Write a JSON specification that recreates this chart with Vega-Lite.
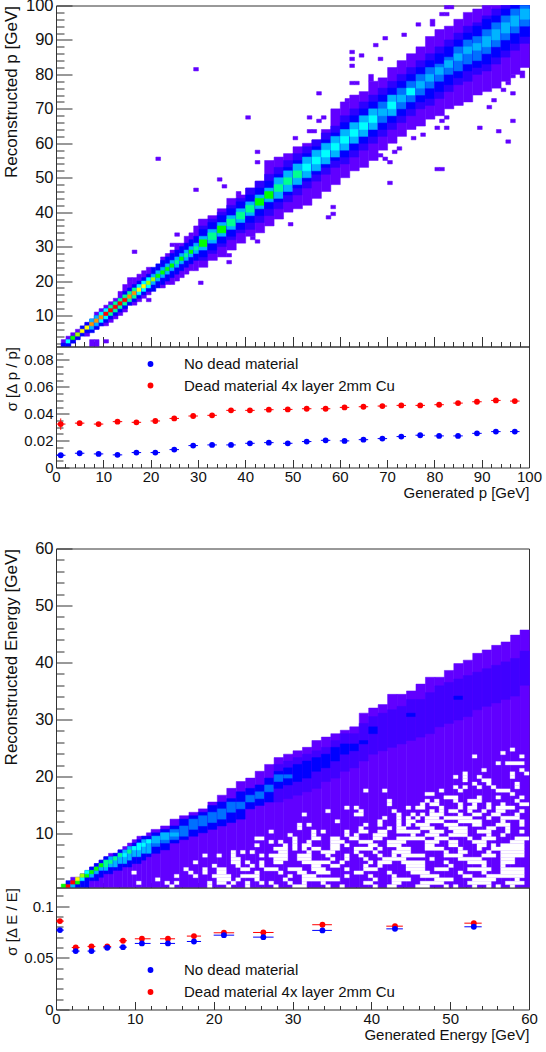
{"$schema":"https://vega.github.io/schema/vega-lite/v6.json","bounds":"flush","spacing":0,"padding":{"left":1,"top":-3.5,"right":0,"bottom":0},"resolve":{"scale":{"color":"independent","stroke":"independent"}},"config":{"font":"Liberation Sans","view":{"stroke":"#333","strokeWidth":1},"range":{"category":["#ff0000","#0000ff"]},"axis":{"grid":false,"domain":false,"zindex":1,"tickColor":"#333","labelColor":"#111","titleColor":"#111","titleFontWeight":"normal","labelOverlap":false,"labelBound":false,"labelFlush":false}},
"datasets":{
"h1a":[{"x":1.5,"y":1,"t":3,"c":1},{"x":1.5,"y":1,"t":2,"c":3},{"x":2.5,"y":1,"t":4,"c":1},{"x":2.5,"y":1,"t":2,"c":3},{"x":2.5,"y":2,"t":3,"c":6},{"x":3.5,"y":2,"t":5,"c":1},{"x":3.5,"y":2,"t":4,"c":3},{"x":3.5,"y":3,"t":4,"c":8},{"x":4.5,"y":3,"t":6,"c":1},{"x":4.5,"y":3,"t":5,"c":3},{"x":4.5,"y":4,"t":5,"c":9},{"x":5.5,"y":4,"t":7,"c":3},{"x":5.5,"y":5,"t":6,"c":10},{"x":6.5,"y":4,"t":8,"c":1},{"x":6.5,"y":5,"t":8,"c":3},{"x":6.5,"y":6,"t":7,"c":10},{"x":7.5,"y":5,"t":9,"c":3},{"x":7.5,"y":6,"t":9,"c":5},{"x":7.5,"y":7,"t":8,"c":11},{"x":8.5,"y":6,"t":11,"c":1},{"x":8.5,"y":6,"t":10,"c":3},{"x":8.5,"y":7,"t":10,"c":5},{"x":8.5,"y":8,"t":9,"c":11},{"x":9.5,"y":7,"t":12,"c":1},{"x":9.5,"y":7,"t":11,"c":3},{"x":9.5,"y":8,"t":11,"c":6},{"x":9.5,"y":9,"t":10,"c":11},{"x":10.5,"y":7,"t":13,"c":1},{"x":10.5,"y":8,"t":12,"c":3},{"x":10.5,"y":9,"t":12,"c":6},{"x":10.5,"y":10,"t":11,"c":12},{"x":11.5,"y":8,"t":14,"c":1},{"x":11.5,"y":9,"t":13,"c":3},{"x":11.5,"y":10,"t":13,"c":7},{"x":11.5,"y":11,"t":12,"c":12},{"x":12.5,"y":9,"t":15,"c":1},{"x":12.5,"y":10,"t":14,"c":3},{"x":12.5,"y":11,"t":14,"c":7},{"x":12.5,"y":12,"t":13,"c":12},{"x":13.5,"y":10,"t":17,"c":1},{"x":13.5,"y":11,"t":15,"c":3},{"x":13.5,"y":12,"t":15,"c":7},{"x":13.5,"y":13,"t":14,"c":12},{"x":14.5,"y":11,"t":19,"c":1},{"x":14.5,"y":12,"t":17,"c":3},{"x":14.5,"y":13,"t":16,"c":7},{"x":14.5,"y":14,"t":15,"c":12},{"x":15.5,"y":13,"t":20,"c":1},{"x":15.5,"y":13,"t":18,"c":3},{"x":15.5,"y":14,"t":17,"c":7},{"x":15.5,"y":15,"t":16,"c":11},{"x":16.5,"y":13,"t":21,"c":1},{"x":16.5,"y":14,"t":19,"c":3},{"x":16.5,"y":15,"t":18,"c":7},{"x":16.5,"y":16,"t":17,"c":11},{"x":17.5,"y":14,"t":22,"c":1},{"x":17.5,"y":15,"t":20,"c":3},{"x":17.5,"y":16,"t":19,"c":6},{"x":17.5,"y":17,"t":18,"c":10},{"x":18.5,"y":15,"t":23,"c":1},{"x":18.5,"y":16,"t":21,"c":3},{"x":18.5,"y":17,"t":20,"c":6},{"x":18.5,"y":18,"t":19,"c":10},{"x":19.5,"y":16,"t":24,"c":1},{"x":19.5,"y":17,"t":22,"c":3},{"x":19.5,"y":18,"t":21,"c":6},{"x":19.5,"y":19,"t":20,"c":9},{"x":20.5,"y":17,"t":24,"c":3},{"x":20.5,"y":19,"t":22,"c":5},{"x":20.5,"y":20,"t":21,"c":9},{"x":21.5,"y":18,"t":25,"c":3},{"x":21.5,"y":20,"t":23,"c":5},{"x":21.5,"y":21,"t":22,"c":8},{"x":22.5,"y":18,"t":27,"c":1},{"x":22.5,"y":19,"t":26,"c":3},{"x":22.5,"y":21,"t":24,"c":5},{"x":22.5,"y":22,"t":23,"c":8},{"x":23.5,"y":19,"t":28,"c":1},{"x":23.5,"y":20,"t":27,"c":3},{"x":23.5,"y":22,"t":25,"c":5},{"x":23.5,"y":23,"t":24,"c":8},{"x":24.5,"y":19,"t":29,"c":1},{"x":24.5,"y":21,"t":28,"c":3},{"x":24.5,"y":23,"t":26,"c":5},{"x":24.5,"y":24,"t":25,"c":8},{"x":25.5,"y":20,"t":31,"c":1},{"x":25.5,"y":22,"t":29,"c":3},{"x":25.5,"y":24,"t":27,"c":5},{"x":25.5,"y":25,"t":26,"c":7},{"x":26.5,"y":21,"t":31,"c":1},{"x":26.5,"y":23,"t":30,"c":3},{"x":26.5,"y":25,"t":28,"c":5},{"x":26.5,"y":26,"t":27,"c":8},{"x":27.5,"y":22,"t":33,"c":1},{"x":27.5,"y":24,"t":31,"c":3},{"x":27.5,"y":26,"t":29,"c":5},{"x":27.5,"y":27,"t":28,"c":7},{"x":28.5,"y":23,"t":34,"c":1},{"x":28.5,"y":25,"t":32,"c":3},{"x":28.5,"y":27,"t":30,"c":5},{"x":28.5,"y":28,"t":29,"c":8},{"x":29.5,"y":23,"t":36,"c":1},{"x":29.5,"y":26,"t":33,"c":3},{"x":29.5,"y":28,"t":31,"c":5},{"x":29.5,"y":29,"t":30,"c":7},
{"x":29.5,"y":81,"t":82,"c":1},{"x":40.5,"y":67,"t":68,"c":1},{"x":21.5,"y":55,"t":56,"c":1},{"x":42.5,"y":57,"t":58,"c":1},{"x":42.5,"y":54,"t":55,"c":1},{"x":34.5,"y":49,"t":50,"c":1},{"x":35.5,"y":47,"t":48,"c":1},{"x":29.5,"y":46,"t":47,"c":1},{"x":38.5,"y":45,"t":46,"c":1},{"x":25.5,"y":33,"t":34,"c":1},{"x":24.5,"y":30,"t":31,"c":1},{"x":16.5,"y":28,"t":29,"c":1},{"x":15.5,"y":20,"t":21,"c":1},{"x":19.5,"y":14,"t":15,"c":1},{"x":30.5,"y":19,"t":20,"c":1},{"x":36.5,"y":25,"t":26,"c":1},{"x":36.5,"y":27,"t":28,"c":1},{"x":10.5,"y":2,"t":3,"c":1},{"x":7.5,"y":1,"t":3,"c":1},{"x":8.5,"y":1,"t":3,"c":1},{"x":42.5,"y":31,"t":32,"c":1},{"x":41.5,"y":32,"t":33,"c":1},{"x":55.5,"y":74,"t":75,"c":1},{"x":62.5,"y":86,"t":87,"c":1},{"x":62.5,"y":84,"t":85,"c":1},{"x":62.5,"y":82,"t":83,"c":1},{"x":64.5,"y":85,"t":86,"c":1},{"x":67.5,"y":88,"t":89,"c":1},{"x":68.5,"y":84,"t":85,"c":1},{"x":69.5,"y":90,"t":91,"c":1},{"x":73.5,"y":91,"t":92,"c":1},{"x":76.5,"y":94,"t":95,"c":1},{"x":79.5,"y":94,"t":96,"c":1},{"x":82.5,"y":99,"t":100,"c":1},{"x":83.5,"y":99,"t":100,"c":1},{"x":81.5,"y":97,"t":98,"c":1},{"x":82.5,"y":97,"t":98,"c":1},{"x":53.5,"y":67,"t":68,"c":1},{"x":55.5,"y":66,"t":67,"c":1},{"x":56.5,"y":67,"t":68,"c":1},{"x":50.5,"y":61,"t":62,"c":1},{"x":53.5,"y":63,"t":64,"c":1},{"x":54.5,"y":63,"t":64,"c":1},{"x":66.5,"y":78,"t":80,"c":1},{"x":62.5,"y":77,"t":78,"c":1},{"x":63.5,"y":77,"t":78,"c":1},{"x":61.5,"y":72,"t":73,"c":1},{"x":49.5,"y":36,"t":37,"c":1},{"x":57.5,"y":38,"t":39,"c":1},{"x":58.5,"y":39,"t":40,"c":1},{"x":58.5,"y":41,"t":42,"c":1},{"x":70.5,"y":48,"t":49,"c":1},{"x":80.5,"y":52,"t":53,"c":1},{"x":81.5,"y":52,"t":53,"c":1},{"x":70.5,"y":54,"t":55,"c":1},{"x":69.5,"y":55,"t":56,"c":1},{"x":68.5,"y":56,"t":57,"c":1},{"x":72.5,"y":58,"t":59,"c":1},{"x":71.5,"y":57,"t":58,"c":1},{"x":75.5,"y":61,"t":62,"c":1},{"x":77.5,"y":62,"t":63,"c":1},{"x":80.5,"y":64,"t":65,"c":1},{"x":82.5,"y":64,"t":65,"c":1},{"x":81.5,"y":66,"t":67,"c":1},{"x":82.5,"y":67,"t":68,"c":1},{"x":89.5,"y":64,"t":65,"c":1},{"x":93.5,"y":63,"t":64,"c":1},{"x":95.5,"y":60,"t":61,"c":1},{"x":96.5,"y":66,"t":67,"c":1},{"x":91.5,"y":70,"t":71,"c":1},{"x":92.5,"y":72,"t":73,"c":1},{"x":96.5,"y":74,"t":75,"c":1},{"x":94.5,"y":75,"t":76,"c":1},{"x":95.5,"y":77,"t":78,"c":1},{"x":96.5,"y":79,"t":80,"c":1},{"x":98.5,"y":79,"t":81,"c":1}],
"h1b":[{"x":31,"y":24,"t":38,"c":1},{"x":31,"y":26,"t":36,"c":2},{"x":31,"y":27,"t":35,"c":3},{"x":31,"y":29,"t":33,"c":5},{"x":31,"y":30,"t":32,"c":8},{"x":33,"y":26,"t":39,"c":1},{"x":33,"y":28,"t":38,"c":2},{"x":33,"y":29,"t":37,"c":3},{"x":33,"y":31,"t":35,"c":5},{"x":33,"y":32,"t":34,"c":7},{"x":35,"y":27,"t":41,"c":1},{"x":35,"y":30,"t":40,"c":2},{"x":35,"y":31,"t":39,"c":3},{"x":35,"y":33,"t":37,"c":5},{"x":35,"y":34,"t":36,"c":8},{"x":37,"y":29,"t":44,"c":1},{"x":37,"y":32,"t":42,"c":2},{"x":37,"y":33,"t":41,"c":3},{"x":37,"y":35,"t":39,"c":5},{"x":37,"y":36,"t":38,"c":7},{"x":39,"y":31,"t":45,"c":1},{"x":39,"y":34,"t":44,"c":2},{"x":39,"y":35,"t":43,"c":3},{"x":39,"y":37,"t":41,"c":5},{"x":39,"y":38,"t":40,"c":7},{"x":41,"y":33,"t":47,"c":1},{"x":41,"y":35,"t":47,"c":2},{"x":41,"y":37,"t":45,"c":3},{"x":41,"y":39,"t":43,"c":5},{"x":41,"y":40,"t":42,"c":7},{"x":43,"y":34,"t":49,"c":1},{"x":43,"y":37,"t":49,"c":2},{"x":43,"y":39,"t":47,"c":3},{"x":43,"y":41,"t":45,"c":5},{"x":43,"y":42,"t":44,"c":8},{"x":45,"y":36,"t":55,"c":1},{"x":45,"y":39,"t":51,"c":2},{"x":45,"y":41,"t":49,"c":3},{"x":45,"y":43,"t":47,"c":5},{"x":45,"y":44,"t":46,"c":8},{"x":47,"y":38,"t":56,"c":1},{"x":47,"y":41,"t":53,"c":2},{"x":47,"y":43,"t":51,"c":3},{"x":47,"y":44,"t":50,"c":5},{"x":47,"y":46,"t":48,"c":7},{"x":49,"y":40,"t":57,"c":1},{"x":49,"y":43,"t":55,"c":2},{"x":49,"y":45,"t":53,"c":3},{"x":49,"y":46,"t":52,"c":5},{"x":49,"y":48,"t":50,"c":7},{"x":51,"y":41,"t":59,"c":1},{"x":51,"y":45,"t":57,"c":2},{"x":51,"y":47,"t":55,"c":3},{"x":51,"y":48,"t":54,"c":5},{"x":51,"y":50,"t":52,"c":7},{"x":53,"y":42,"t":60,"c":1},{"x":53,"y":47,"t":59,"c":2},{"x":53,"y":49,"t":57,"c":3},{"x":53,"y":50,"t":56,"c":5},{"x":53,"y":52,"t":54,"c":6},{"x":55,"y":44,"t":61,"c":1},{"x":55,"y":49,"t":61,"c":2},{"x":55,"y":51,"t":59,"c":3},{"x":55,"y":52,"t":58,"c":5},{"x":55,"y":54,"t":56,"c":6},{"x":57,"y":46,"t":64,"c":1},{"x":57,"y":51,"t":63,"c":2},{"x":57,"y":53,"t":61,"c":3},{"x":57,"y":54,"t":60,"c":5},{"x":57,"y":56,"t":58,"c":6},{"x":59,"y":48,"t":70,"c":1},{"x":59,"y":53,"t":65,"c":2},{"x":59,"y":55,"t":63,"c":3},{"x":59,"y":56,"t":62,"c":5},{"x":59,"y":58,"t":60,"c":6},{"x":61,"y":50,"t":72,"c":1},{"x":61,"y":54,"t":68,"c":2},{"x":61,"y":56,"t":66,"c":3},{"x":61,"y":58,"t":64,"c":5},{"x":61,"y":60,"t":62,"c":6},{"x":63,"y":52,"t":74,"c":1},{"x":63,"y":56,"t":70,"c":2},{"x":63,"y":58,"t":68,"c":3},{"x":63,"y":60,"t":66,"c":5},{"x":63,"y":62,"t":64,"c":6},{"x":65,"y":53,"t":75,"c":1},{"x":65,"y":58,"t":72,"c":2},{"x":65,"y":60,"t":70,"c":3},{"x":65,"y":62,"t":68,"c":5},{"x":65,"y":64,"t":66,"c":6},{"x":67,"y":55,"t":78,"c":1},{"x":67,"y":60,"t":74,"c":2},{"x":67,"y":62,"t":72,"c":3},{"x":67,"y":64,"t":70,"c":5},{"x":67,"y":66,"t":68,"c":6},{"x":69,"y":58,"t":79,"c":1},{"x":69,"y":62,"t":76,"c":2},{"x":69,"y":64,"t":74,"c":3},{"x":69,"y":66,"t":72,"c":4},{"x":69,"y":68,"t":70,"c":5},{"x":71,"y":60,"t":82,"c":1},{"x":71,"y":64,"t":78,"c":2},{"x":71,"y":66,"t":76,"c":3},{"x":71,"y":68,"t":74,"c":5},{"x":71,"y":70,"t":72,"c":6},{"x":73,"y":62,"t":84,"c":1},{"x":73,"y":66,"t":80,"c":2},{"x":73,"y":68,"t":78,"c":3},{"x":73,"y":70,"t":76,"c":4},{"x":73,"y":72,"t":74,"c":5},{"x":75,"y":64,"t":86,"c":1},{"x":75,"y":68,"t":82,"c":2},{"x":75,"y":70,"t":80,"c":3},{"x":75,"y":72,"t":78,"c":4},{"x":75,"y":74,"t":76,"c":6},{"x":77,"y":65,"t":88,"c":1},{"x":77,"y":70,"t":84,"c":2},{"x":77,"y":72,"t":82,"c":3},{"x":77,"y":74,"t":80,"c":4},{"x":77,"y":76,"t":78,"c":5},{"x":79,"y":67,"t":91,"c":1},{"x":79,"y":71,"t":86,"c":2},{"x":79,"y":73,"t":84,"c":3},{"x":79,"y":76,"t":82,"c":4},{"x":79,"y":78,"t":80,"c":5},{"x":81,"y":68,"t":93,"c":1},{"x":81,"y":73,"t":88,"c":2},{"x":81,"y":75,"t":86,"c":3},{"x":81,"y":78,"t":83,"c":4},{"x":81,"y":80,"t":82,"c":5},{"x":83,"y":70,"t":94,"c":1},{"x":83,"y":75,"t":90,"c":2},{"x":83,"y":77,"t":88,"c":3},{"x":83,"y":80,"t":85,"c":4},{"x":83,"y":82,"t":84,"c":5},{"x":85,"y":71,"t":96,"c":1},{"x":85,"y":77,"t":92,"c":2},{"x":85,"y":79,"t":90,"c":3},{"x":85,"y":81,"t":88,"c":4},{"x":85,"y":84,"t":86,"c":5},{"x":87,"y":72,"t":98,"c":1},{"x":87,"y":78,"t":94,"c":2},{"x":87,"y":81,"t":92,"c":3},{"x":87,"y":83,"t":90,"c":4},{"x":87,"y":86,"t":88,"c":5},{"x":89,"y":74,"t":99,"c":1},{"x":89,"y":80,"t":95,"c":2},{"x":89,"y":82,"t":94,"c":3},{"x":89,"y":84,"t":91,"c":4},{"x":89,"y":87,"t":89,"c":5},{"x":91,"y":75,"t":100,"c":1},{"x":91,"y":81,"t":97,"c":2},{"x":91,"y":83,"t":96,"c":3},{"x":91,"y":86,"t":93,"c":4},{"x":91,"y":88,"t":91,"c":5},{"x":93,"y":76,"t":100,"c":1},{"x":93,"y":83,"t":99,"c":2},{"x":93,"y":85,"t":97,"c":3},{"x":93,"y":88,"t":95,"c":4},{"x":93,"y":90,"t":93,"c":5},{"x":95,"y":78,"t":100,"c":1},{"x":95,"y":85,"t":100,"c":2},{"x":95,"y":87,"t":99,"c":3},{"x":95,"y":90,"t":97,"c":4},{"x":95,"y":92,"t":95,"c":5},{"x":97,"y":80,"t":100,"c":1},{"x":97,"y":87,"t":100,"c":2},{"x":97,"y":89,"t":100,"c":3},{"x":97,"y":92,"t":99,"c":4},{"x":97,"y":94,"t":97,"c":5},{"x":99,"y":82,"t":100,"c":1},{"x":99,"y":89,"t":100,"c":2},{"x":99,"y":91,"t":100,"c":3},{"x":99,"y":94,"t":100,"c":4},{"x":99,"y":96,"t":99,"c":5}],
"h2a":[{"x":0.9,"y":0.5,"t":1.1,"c":8},{"x":1.5,"y":0.5,"t":1.1,"c":12},{"x":1.5,"y":1.1,"t":1.7,"c":3},{"x":2.1,"y":0.5,"t":2.3,"c":1},{"x":2.1,"y":0.5,"t":1.1,"c":5},{"x":2.1,"y":1.1,"t":1.7,"c":12},{"x":2.7,"y":0.5,"t":2.3,"c":3},{"x":2.7,"y":1.1,"t":1.7,"c":8},{"x":2.7,"y":1.7,"t":2.3,"c":10},{"x":3.3,"y":0.5,"t":2.9,"c":3},{"x":3.3,"y":1.7,"t":2.3,"c":6},{"x":3.3,"y":2.3,"t":2.9,"c":9},{"x":3.9,"y":0.5,"t":3.5,"c":3},{"x":3.9,"y":2.3,"t":2.9,"c":8},{"x":3.9,"y":2.9,"t":3.5,"c":6},{"x":4.5,"y":0.5,"t":4.1,"c":1},{"x":4.5,"y":1.7,"t":4.1,"c":3},{"x":4.5,"y":2.3,"t":3.5,"c":5},{"x":4.5,"y":2.9,"t":3.5,"c":8},{"x":5.1,"y":0.5,"t":4.7,"c":1},{"x":5.1,"y":1.7,"t":4.7,"c":3},{"x":5.1,"y":2.9,"t":4.1,"c":5},{"x":5.1,"y":3.5,"t":4.1,"c":8},{"x":5.7,"y":0.5,"t":5.3,"c":1},{"x":5.7,"y":2.3,"t":5.3,"c":3},{"x":5.7,"y":3.5,"t":4.7,"c":5},{"x":5.7,"y":4.1,"t":4.7,"c":8},{"x":6.3,"y":0.5,"t":5.9,"c":1},{"x":6.3,"y":2.9,"t":5.9,"c":3},{"x":6.3,"y":3.5,"t":5.3,"c":5},{"x":6.3,"y":4.1,"t":5.3,"c":7},{"x":6.9,"y":0.5,"t":6.5,"c":1},{"x":6.9,"y":2.9,"t":5.9,"c":3},{"x":6.9,"y":4.1,"t":5.9,"c":5},{"x":6.9,"y":4.7,"t":5.3,"c":7},{"x":7.5,"y":0.5,"t":6.5,"c":1},{"x":7.5,"y":3.5,"t":6.5,"c":3},{"x":7.5,"y":4.1,"t":5.9,"c":5},{"x":7.5,"y":5.3,"t":5.9,"c":7},{"x":8.1,"y":0.5,"t":7.1,"c":1},{"x":8.1,"y":3.5,"t":7.1,"c":3},{"x":8.1,"y":4.7,"t":6.5,"c":5},{"x":8.1,"y":5.9,"t":6.5,"c":7},{"x":8.7,"y":0.5,"t":7.7,"c":1},{"x":8.7,"y":4.1,"t":7.1,"c":3},{"x":8.7,"y":4.7,"t":7.1,"c":5},{"x":8.7,"y":5.9,"t":6.5,"c":6},{"x":9.3,"y":0.5,"t":8.3,"c":1},{"x":9.3,"y":4.1,"t":7.7,"c":3},{"x":9.3,"y":5.3,"t":7.7,"c":5},{"x":9.3,"y":6.5,"t":7.1,"c":7},{"x":9.9,"y":0.5,"t":8.9,"c":1},{"x":9.9,"y":4.7,"t":8.3,"c":3},{"x":9.9,"y":5.9,"t":7.7,"c":5},{"x":9.9,"y":7.1,"t":7.7,"c":6},{"x":10.5,"y":0.5,"t":9.5,"c":1},{"x":10.5,"y":4.7,"t":8.9,"c":3},{"x":10.5,"y":5.9,"t":8.3,"c":5},{"x":10.5,"y":7.1,"t":8.3,"c":6},{"x":11.1,"y":0.5,"t":9.5,"c":1},{"x":11.1,"y":5.3,"t":9.5,"c":3},{"x":11.1,"y":6.5,"t":8.9,"c":5},{"x":11.1,"y":7.7,"t":8.3,"c":6},{"x":11.7,"y":0.5,"t":10.1,"c":1},{"x":11.7,"y":5.9,"t":9.5,"c":3},{"x":11.7,"y":6.5,"t":8.9,"c":5},{"x":11.7,"y":8.3,"t":8.9,"c":6}],
"h2b":[{"x":12.6,"y":0.5,"t":10.7,"c":1},{"x":12.6,"y":6.5,"t":10.1,"c":3},{"x":12.6,"y":7.7,"t":9.5,"c":4},{"x":12.6,"y":8.3,"t":9.5,"c":5},{"x":13.8,"y":0.5,"t":11.3,"c":1},{"x":13.8,"y":7.1,"t":10.7,"c":3},{"x":13.8,"y":8.3,"t":10.1,"c":4},{"x":13.8,"y":8.9,"t":10.1,"c":5},{"x":15,"y":0.5,"t":12.5,"c":1},{"x":15,"y":8.3,"t":11.3,"c":3},{"x":15,"y":8.9,"t":10.7,"c":4},{"x":15,"y":9.5,"t":10.1,"c":5},{"x":16.2,"y":0.5,"t":13.1,"c":1},{"x":16.2,"y":8.9,"t":12.5,"c":3},{"x":16.2,"y":9.5,"t":11.3,"c":4},{"x":17.4,"y":0.5,"t":13.7,"c":1},{"x":17.4,"y":9.5,"t":13.1,"c":3},{"x":17.4,"y":10.7,"t":12.5,"c":4},{"x":18.6,"y":0.5,"t":14.3,"c":1},{"x":18.6,"y":10.1,"t":13.7,"c":3},{"x":18.6,"y":11.3,"t":13.1,"c":4},{"x":19.8,"y":0.5,"t":15.5,"c":1},{"x":19.8,"y":10.7,"t":14.9,"c":3},{"x":19.8,"y":11.9,"t":13.7,"c":4},{"x":21,"y":0.5,"t":16.7,"c":1},{"x":21,"y":11.3,"t":15.5,"c":3},{"x":21,"y":12.5,"t":14.3,"c":4},{"x":22.2,"y":0.5,"t":17.9,"c":1},{"x":22.2,"y":11.9,"t":16.1,"c":3},{"x":22.2,"y":13.7,"t":15.5,"c":4},{"x":23.4,"y":0.5,"t":19.1,"c":1},{"x":23.4,"y":12.5,"t":17.3,"c":3},{"x":23.4,"y":14.3,"t":15.5,"c":4},{"x":24.6,"y":0.5,"t":19.7,"c":1},{"x":24.6,"y":14.3,"t":17.9,"c":3},{"x":24.6,"y":15.5,"t":16.7,"c":4},{"x":25.8,"y":0.5,"t":20.9,"c":1},{"x":25.8,"y":14.9,"t":18.5,"c":3},{"x":25.8,"y":16.1,"t":17.3,"c":4},{"x":27,"y":0.5,"t":22.1,"c":1},{"x":27,"y":15.5,"t":19.7,"c":3},{"x":27,"y":17.3,"t":18.5,"c":4},{"x":28.2,"y":0.5,"t":23.3,"c":1},{"x":28.2,"y":15.5,"t":22.1,"c":2},{"x":28.2,"y":17.9,"t":20.9,"c":3},{"x":28.2,"y":19.1,"t":20.3,"c":4},{"x":29.4,"y":0.5,"t":23.9,"c":1},{"x":29.4,"y":16.1,"t":22.7,"c":2},{"x":29.4,"y":18.5,"t":21.5,"c":3},{"x":29.4,"y":19.7,"t":20.3,"c":4},{"x":30.6,"y":0.5,"t":24.5,"c":1},{"x":30.6,"y":16.7,"t":23.3,"c":2},{"x":30.6,"y":19.1,"t":22.1,"c":3},{"x":31.8,"y":0.5,"t":25.1,"c":1},{"x":31.8,"y":17.3,"t":23.9,"c":2},{"x":31.8,"y":19.7,"t":22.7,"c":3},{"x":33,"y":0.5,"t":26.3,"c":1},{"x":33,"y":17.9,"t":24.5,"c":2},{"x":33,"y":20.9,"t":23.3,"c":3},{"x":34.2,"y":0.5,"t":26.9,"c":1},{"x":34.2,"y":19.1,"t":25.1,"c":2},{"x":34.2,"y":21.5,"t":23.9,"c":3},{"x":35.4,"y":0.5,"t":27.5,"c":1},{"x":35.4,"y":19.7,"t":26.3,"c":2},{"x":35.4,"y":22.7,"t":25.1,"c":3},{"x":36.6,"y":0.5,"t":28.1,"c":1},{"x":36.6,"y":20.9,"t":27.5,"c":2},{"x":36.6,"y":23.9,"t":25.7,"c":3},{"x":37.8,"y":0.5,"t":28.7,"c":1},{"x":37.8,"y":21.5,"t":27.5,"c":2},{"x":37.8,"y":24.5,"t":25.7,"c":3},{"x":39,"y":0.5,"t":31.1,"c":1},{"x":39,"y":22.7,"t":29.3,"c":2},{"x":39,"y":25.7,"t":26.3,"c":3},{"x":40.2,"y":0.5,"t":32,"c":1},{"x":40.2,"y":23.9,"t":30.5,"c":2},{"x":40.2,"y":27.5,"t":28.7,"c":3},{"x":41.4,"y":0.5,"t":32.6,"c":1},{"x":41.4,"y":24.5,"t":31.1,"c":2},{"x":42.6,"y":0.5,"t":34.4,"c":1},{"x":42.6,"y":25.1,"t":31.7,"c":2},{"x":43.8,"y":0.5,"t":34.4,"c":1},{"x":43.8,"y":25.7,"t":32.3,"c":2},{"x":45,"y":0.5,"t":35,"c":1},{"x":45,"y":26.3,"t":33.5,"c":2},{"x":45,"y":30.5,"t":31.1,"c":3},{"x":46.2,"y":0.5,"t":36.2,"c":1},{"x":46.2,"y":26.9,"t":33.5,"c":2},{"x":47.4,"y":0.5,"t":37.4,"c":1},{"x":47.4,"y":27.5,"t":34.7,"c":2},{"x":48.6,"y":0.5,"t":37.4,"c":1},{"x":48.6,"y":28.7,"t":35.9,"c":2},{"x":49.8,"y":0.5,"t":38.6,"c":1},{"x":49.8,"y":29.3,"t":36.5,"c":2},{"x":51,"y":0.5,"t":39.8,"c":1},{"x":51,"y":29.9,"t":37.1,"c":2},{"x":51,"y":33.5,"t":34.1,"c":3},{"x":52.2,"y":0.5,"t":40.4,"c":1},{"x":52.2,"y":30.5,"t":37.7,"c":2},{"x":53.4,"y":0.5,"t":41.6,"c":1},{"x":53.4,"y":31.7,"t":38.3,"c":2},{"x":54.6,"y":0.5,"t":42.2,"c":1},{"x":54.6,"y":32.3,"t":38.9,"c":2},{"x":55.8,"y":0.5,"t":43,"c":1},{"x":55.8,"y":32.9,"t":39.5,"c":2},{"x":57,"y":0.5,"t":43.6,"c":1},{"x":57,"y":33.5,"t":40.1,"c":2},{"x":58.2,"y":0.5,"t":44.8,"c":1},{"x":58.2,"y":34.1,"t":40.7,"c":2},{"x":59.4,"y":0.5,"t":45.7,"c":1},{"x":59.4,"y":36,"t":42,"c":2}],
"holes":[{"x":57.6,"e":58.2,"y":24.8},{"x":56.4,"e":57,"y":24.2},{"x":52.8,"e":53.4,"y":23.6},{"x":58.8,"e":59.4,"y":23.6},{"x":55.8,"e":56.4,"y":22.4},{"x":57,"e":59.4,"y":22.4},{"x":54,"e":54.6,"y":21.2},{"x":58.8,"e":59.4,"y":21.2},{"x":51.6,"e":52.2,"y":20.6},{"x":57.6,"e":58.2,"y":20.6},{"x":59.4,"e":60,"y":20.6},{"x":50.4,"e":51,"y":20},{"x":51.6,"e":52.2,"y":20},{"x":53.4,"e":54,"y":20},{"x":57.6,"e":58.2,"y":20},{"x":51.6,"e":52.2,"y":19.4},{"x":54,"e":55.2,"y":19.4},{"x":52.8,"e":53.4,"y":18.8},{"x":54.6,"e":55.2,"y":18.8},{"x":58.2,"e":58.8,"y":18.8},{"x":50.4,"e":51,"y":18.2},{"x":51.6,"e":52.2,"y":18.2},{"x":53.4,"e":54,"y":18.2},{"x":55.2,"e":55.8,"y":18.2},{"x":58.2,"e":58.8,"y":18.2},{"x":39,"e":39.6,"y":17.6},{"x":41.4,"e":42,"y":17.6},{"x":48.6,"e":49.2,"y":17.6},{"x":51,"e":51.6,"y":17.6},{"x":55.8,"e":57.6,"y":17.6},{"x":46.8,"e":48,"y":17},{"x":57.6,"e":58.2,"y":17},{"x":49.2,"e":51,"y":16.4},{"x":53.4,"e":54,"y":16.4},{"x":55.8,"e":56.4,"y":16.4},{"x":58.8,"e":59.4,"y":16.4},{"x":42,"e":42.6,"y":15.8},{"x":46.8,"e":47.4,"y":15.8},{"x":48,"e":48.6,"y":15.8},{"x":50.4,"e":51,"y":15.8},{"x":52.2,"e":54,"y":15.8},{"x":58.2,"e":58.8,"y":15.8},{"x":42,"e":42.6,"y":15.2},{"x":46.2,"e":46.8,"y":15.2},{"x":47.4,"e":48.6,"y":15.2},{"x":51,"e":51.6,"y":15.2},{"x":52.8,"e":53.4,"y":15.2},{"x":54.6,"e":55.2,"y":15.2},{"x":56.4,"e":57,"y":15.2},{"x":58.8,"e":60,"y":15.2},{"x":36.6,"e":37.2,"y":14.6},{"x":37.8,"e":38.4,"y":14.6},{"x":44.4,"e":45,"y":14.6},{"x":45.6,"e":46.8,"y":14.6},{"x":48.6,"e":49.2,"y":14.6},{"x":51,"e":51.6,"y":14.6},{"x":52.2,"e":53.4,"y":14.6},{"x":54.6,"e":55.2,"y":14.6},{"x":55.8,"e":58.2,"y":14.6},{"x":34.2,"e":34.8,"y":14},{"x":38.4,"e":39,"y":14},{"x":42.6,"e":43.2,"y":14},{"x":47.4,"e":48,"y":14},{"x":48.6,"e":49.2,"y":14},{"x":49.8,"e":51,"y":14},{"x":52.2,"e":52.8,"y":14},{"x":54,"e":54.6,"y":14},{"x":55.8,"e":57,"y":14},{"x":58.8,"e":59.4,"y":14},{"x":31.2,"e":31.8,"y":13.4},{"x":37.8,"e":39,"y":13.4},{"x":43.2,"e":43.8,"y":13.4},{"x":45,"e":45.6,"y":13.4},{"x":46.2,"e":46.8,"y":13.4},{"x":47.4,"e":49.2,"y":13.4},{"x":51,"e":51.6,"y":13.4},{"x":52.8,"e":54,"y":13.4},{"x":55.2,"e":56.4,"y":13.4},{"x":58.2,"e":58.8,"y":13.4},{"x":41.4,"e":42,"y":12.8},{"x":43.2,"e":43.8,"y":12.8},{"x":44.4,"e":45,"y":12.8},{"x":45.6,"e":46.2,"y":12.8},{"x":46.8,"e":48.6,"y":12.8},{"x":49.2,"e":52.8,"y":12.8},{"x":54.6,"e":55.2,"y":12.8},{"x":56.4,"e":58.8,"y":12.8},{"x":35.4,"e":36,"y":12.2},{"x":40.8,"e":41.4,"y":12.2},{"x":43.2,"e":43.8,"y":12.2},{"x":44.4,"e":45.6,"y":12.2},{"x":46.8,"e":49.2,"y":12.2},{"x":51,"e":54,"y":12.2},{"x":56.4,"e":57,"y":12.2},{"x":58.8,"e":59.4,"y":12.2},{"x":30.6,"e":31.2,"y":11.6},{"x":31.8,"e":32.4,"y":11.6},{"x":39,"e":39.6,"y":11.6},{"x":40.8,"e":41.4,"y":11.6},{"x":43.2,"e":43.8,"y":11.6},{"x":44.4,"e":45,"y":11.6},{"x":45.6,"e":47.4,"y":11.6},{"x":49.2,"e":51,"y":11.6},{"x":52.8,"e":54,"y":11.6},{"x":55.8,"e":57.6,"y":11.6},{"x":58.8,"e":59.4,"y":11.6},{"x":30.6,"e":31.2,"y":11},{"x":38.4,"e":39,"y":11},{"x":42,"e":42.6,"y":11},{"x":43.2,"e":44.4,"y":11},{"x":46.2,"e":48,"y":11},{"x":49.8,"e":52.2,"y":11},{"x":54.6,"e":55.8,"y":11},{"x":57,"e":57.6,"y":11},{"x":27,"e":27.6,"y":10.4},{"x":32.4,"e":33,"y":10.4},{"x":33.6,"e":34.2,"y":10.4},{"x":36.6,"e":37.2,"y":10.4},{"x":38.4,"e":39.6,"y":10.4},{"x":40.8,"e":42,"y":10.4},{"x":43.2,"e":46.2,"y":10.4},{"x":47.4,"e":49.2,"y":10.4},{"x":50.4,"e":52.2,"y":10.4},{"x":53.4,"e":55.2,"y":10.4},{"x":57,"e":57.6,"y":10.4},{"x":58.8,"e":59.4,"y":10.4},{"x":29.4,"e":30,"y":9.8},{"x":32.4,"e":33,"y":9.8},{"x":36.6,"e":37.2,"y":9.8},{"x":37.8,"e":38.4,"y":9.8},{"x":40.2,"e":42,"y":9.8},{"x":45,"e":45.6,"y":9.8},{"x":46.8,"e":48.6,"y":9.8},{"x":49.8,"e":52.2,"y":9.8},{"x":54.6,"e":55.2,"y":9.8},{"x":56.4,"e":57,"y":9.8},{"x":25.2,"e":26.4,"y":9.4},{"x":30,"e":30.6,"y":9.2},{"x":32.4,"e":33.6,"y":9.2},{"x":34.8,"e":36,"y":9.2},{"x":37.2,"e":38.4,"y":9.2},{"x":40.2,"e":41.4,"y":9.2},{"x":43.2,"e":46.8,"y":9.2},{"x":48,"e":49.8,"y":9.2},{"x":52.2,"e":52.8,"y":9.2},{"x":54,"e":55.8,"y":9.2},{"x":58.2,"e":60,"y":9.2},{"x":27,"e":27.6,"y":8.6},{"x":28.2,"e":28.8,"y":8.6},{"x":30,"e":30.6,"y":8.6},{"x":31.8,"e":32.4,"y":8.6},{"x":34.8,"e":36.6,"y":8.6},{"x":38.4,"e":40.2,"y":8.6},{"x":42,"e":44.4,"y":8.6},{"x":46.8,"e":48.6,"y":8.6},{"x":49.8,"e":51,"y":8.6},{"x":52.8,"e":54.6,"y":8.6},{"x":57.6,"e":59.4,"y":8.6},{"x":25.2,"e":25.8,"y":8},{"x":28.8,"e":29.4,"y":8},{"x":30,"e":30.6,"y":8},{"x":31.2,"e":32.4,"y":8},{"x":34.8,"e":36,"y":8},{"x":36.6,"e":37.2,"y":8},{"x":39.6,"e":40.8,"y":8},{"x":42,"e":43.8,"y":8},{"x":46.8,"e":48,"y":8},{"x":49.8,"e":51,"y":8},{"x":53.4,"e":54.6,"y":8},{"x":55.2,"e":55.8,"y":8},{"x":56.4,"e":59.4,"y":8},{"x":27.6,"e":29.4,"y":7.4},{"x":30,"e":30.6,"y":7.4},{"x":31.2,"e":31.8,"y":7.4},{"x":32.4,"e":33.6,"y":7.4},{"x":34.8,"e":36,"y":7.4},{"x":37.8,"e":40.2,"y":7.4},{"x":40.8,"e":41.4,"y":7.4},{"x":43.2,"e":45,"y":7.4},{"x":46.8,"e":49.2,"y":7.4},{"x":51,"e":51.6,"y":7.4},{"x":53.4,"e":54,"y":7.4},{"x":55.2,"e":59.4,"y":7.4},{"x":22.2,"e":22.8,"y":6.8},{"x":23.4,"e":24,"y":6.8},{"x":24.6,"e":25.2,"y":6.8},{"x":28.2,"e":29.4,"y":6.8},{"x":31.8,"e":32.4,"y":6.8},{"x":33.6,"e":35.4,"y":6.8},{"x":37.8,"e":38.4,"y":6.8},{"x":40.2,"e":40.8,"y":6.8},{"x":42.6,"e":45,"y":6.8},{"x":49.2,"e":49.8,"y":6.8},{"x":51,"e":52.2,"y":6.8},{"x":54.6,"e":55.2,"y":6.8},{"x":56.4,"e":59.4,"y":6.8},{"x":18.6,"e":19.2,"y":6.2},{"x":20.4,"e":21,"y":6.2},{"x":22.2,"e":22.8,"y":6.2},{"x":25.8,"e":26.4,"y":6.2},{"x":27,"e":29.4,"y":6.2},{"x":30.6,"e":32.4,"y":6.2},{"x":34.2,"e":34.8,"y":6.2},{"x":36.6,"e":37.2,"y":6.2},{"x":38.4,"e":39,"y":6.2},{"x":40.8,"e":41.4,"y":6.2},{"x":42.6,"e":43.2,"y":6.2},{"x":43.8,"e":46.8,"y":6.2},{"x":49.2,"e":51.6,"y":6.2},{"x":54,"e":55.8,"y":6.2},{"x":56.4,"e":59.4,"y":6.2},{"x":22.2,"e":23.4,"y":5.6},{"x":27.6,"e":29.4,"y":5.6},{"x":30.6,"e":32.4,"y":5.6},{"x":34.8,"e":35.4,"y":5.6},{"x":36.6,"e":37.2,"y":5.6},{"x":39,"e":39.6,"y":5.6},{"x":41.4,"e":44.4,"y":5.6},{"x":47.4,"e":48,"y":5.6},{"x":51,"e":54,"y":5.6},{"x":56.4,"e":58.2,"y":5.6},{"x":17.4,"e":18,"y":5},{"x":22.2,"e":23.4,"y":5},{"x":24,"e":24.6,"y":5},{"x":25.8,"e":26.4,"y":5},{"x":27.6,"e":28.8,"y":5},{"x":31.2,"e":34.8,"y":5},{"x":36,"e":36.6,"y":5},{"x":39.6,"e":40.2,"y":5},{"x":40.8,"e":42.6,"y":5},{"x":43.8,"e":46.8,"y":5},{"x":49.2,"e":49.8,"y":5},{"x":52.2,"e":54.6,"y":5},{"x":56.4,"e":58.2,"y":5},{"x":19.8,"e":20.4,"y":4.4},{"x":22.8,"e":23.4,"y":4.4},{"x":24.6,"e":25.2,"y":4.4},{"x":25.8,"e":26.4,"y":4.4},{"x":32.4,"e":33.6,"y":4.4},{"x":34.8,"e":36,"y":4.4},{"x":39,"e":39.6,"y":4.4},{"x":40.8,"e":41.4,"y":4.4},{"x":44.4,"e":46.8,"y":4.4},{"x":49.8,"e":50.4,"y":4.4},{"x":54,"e":54.6,"y":4.4},{"x":56.4,"e":57,"y":4.4},{"x":16.2,"e":16.8,"y":3.8},{"x":18.6,"e":19.2,"y":3.8},{"x":20.4,"e":21.6,"y":3.8},{"x":23.4,"e":24.6,"y":3.8},{"x":26.4,"e":28.2,"y":3.8},{"x":29.4,"e":31.2,"y":3.8},{"x":32.4,"e":34.2,"y":3.8},{"x":36.6,"e":37.2,"y":3.8},{"x":39,"e":40.8,"y":3.8},{"x":44.4,"e":46.8,"y":3.8},{"x":48,"e":49.8,"y":3.8},{"x":52.2,"e":55.2,"y":3.8},{"x":56.4,"e":59.4,"y":3.8},{"x":9.6,"e":10.2,"y":3.2},{"x":16.8,"e":17.4,"y":3.2},{"x":18.6,"e":19.2,"y":3.2},{"x":20.4,"e":21.6,"y":3.2},{"x":25.2,"e":25.8,"y":3.2},{"x":28.2,"e":28.8,"y":3.2},{"x":30.6,"e":31.8,"y":3.2},{"x":33,"e":34.8,"y":3.2},{"x":37.8,"e":39,"y":3.2},{"x":42,"e":42.6,"y":3.2},{"x":45,"e":47.4,"y":3.2},{"x":51,"e":51.6,"y":3.2},{"x":54,"e":54.6,"y":3.2},{"x":56.4,"e":59.4,"y":3.2},{"x":15,"e":15.6,"y":2.6},{"x":17.4,"e":18,"y":2.6},{"x":19.8,"e":22.2,"y":2.6},{"x":23.4,"e":25.8,"y":2.6},{"x":29.4,"e":30,"y":2.6},{"x":31.2,"e":33,"y":2.6},{"x":36.6,"e":37.2,"y":2.6},{"x":39.6,"e":40.2,"y":2.6},{"x":42.6,"e":43.2,"y":2.6},{"x":46.2,"e":48.6,"y":2.6},{"x":51.6,"e":52.8,"y":2.6},{"x":54.6,"e":59.4,"y":2.6},{"x":12.6,"e":13.2,"y":2},{"x":20.4,"e":22.2,"y":2},{"x":22.8,"e":23.4,"y":2},{"x":25.2,"e":25.8,"y":2},{"x":28.8,"e":29.4,"y":2},{"x":31.2,"e":33.6,"y":2},{"x":33.6,"e":36,"y":2},{"x":40.2,"e":40.8,"y":2},{"x":42.6,"e":45,"y":2},{"x":48,"e":50.4,"y":2},{"x":52.8,"e":55.8,"y":2},{"x":58.2,"e":58.8,"y":2},{"x":10.2,"e":10.8,"y":1.4},{"x":13.8,"e":14.4,"y":1.4},{"x":15,"e":15.6,"y":1.4},{"x":19.2,"e":19.8,"y":1.4},{"x":20.4,"e":21.6,"y":1.4},{"x":22.2,"e":22.8,"y":1.4},{"x":24,"e":24.6,"y":1.4},{"x":25.8,"e":26.4,"y":1.4},{"x":27,"e":27.6,"y":1.4},{"x":29.4,"e":30,"y":1.4},{"x":31.2,"e":31.8,"y":1.4},{"x":33.6,"e":34.2,"y":1.4},{"x":39,"e":40.2,"y":1.4},{"x":42.6,"e":43.8,"y":1.4},{"x":46.2,"e":49.2,"y":1.4},{"x":52.2,"e":55.2,"y":1.4},{"x":57,"e":59.4,"y":1.4},{"x":14.4,"e":15,"y":0.8},{"x":19.2,"e":19.8,"y":0.8},{"x":21.6,"e":22.2,"y":0.8},{"x":24,"e":24.6,"y":0.8},{"x":27.6,"e":28.2,"y":0.8},{"x":30,"e":31.8,"y":0.8},{"x":34.2,"e":34.8,"y":0.8},{"x":36,"e":36.6,"y":0.8},{"x":40.2,"e":40.8,"y":0.8},{"x":42,"e":43.2,"y":0.8},{"x":45.6,"e":47.4,"y":0.8},{"x":49.2,"e":49.8,"y":0.8},{"x":50.4,"e":51,"y":0.8},{"x":52.8,"e":53.4,"y":0.8},{"x":54.6,"e":55.2,"y":0.8},{"x":55.8,"e":56.4,"y":0.8},{"x":57.6,"e":58.2,"y":0.8}],
"s1":[{"g":"D","x":1,"a":0,"b":2,"y":0.0323,"l":0.028,"h":0.0365},{"g":"D","x":5,"a":4,"b":6,"y":0.033,"l":0.032,"h":0.034},{"g":"D","x":9,"a":8,"b":10,"y":0.0323,"l":0.0313,"h":0.0333},{"g":"D","x":13,"a":12,"b":14,"y":0.0341,"l":0.0331,"h":0.0351},{"g":"D","x":17,"a":16,"b":18,"y":0.0336,"l":0.0326,"h":0.0346},{"g":"D","x":21,"a":20,"b":22,"y":0.0346,"l":0.0336,"h":0.0356},{"g":"D","x":25,"a":24,"b":26,"y":0.0365,"l":0.0355,"h":0.0375},{"g":"D","x":29,"a":28,"b":30,"y":0.0383,"l":0.0373,"h":0.0393},{"g":"D","x":33,"a":32,"b":34,"y":0.0388,"l":0.0378,"h":0.0398},{"g":"D","x":37,"a":36,"b":38,"y":0.0425,"l":0.0415,"h":0.0435},{"g":"D","x":41,"a":40,"b":42,"y":0.0425,"l":0.0415,"h":0.0435},{"g":"D","x":45,"a":44,"b":46,"y":0.043,"l":0.042,"h":0.044},{"g":"D","x":49,"a":48,"b":50,"y":0.0432,"l":0.0422,"h":0.0442},{"g":"D","x":53,"a":52,"b":54,"y":0.0437,"l":0.0427,"h":0.0447},{"g":"D","x":57,"a":56,"b":58,"y":0.0437,"l":0.0427,"h":0.0447},{"g":"D","x":61,"a":60,"b":62,"y":0.0447,"l":0.0437,"h":0.0457},{"g":"D","x":65,"a":64,"b":66,"y":0.0452,"l":0.0442,"h":0.0462},{"g":"D","x":69,"a":68,"b":70,"y":0.0457,"l":0.0447,"h":0.0467},{"g":"D","x":73,"a":72,"b":74,"y":0.0462,"l":0.0452,"h":0.0472},{"g":"D","x":77,"a":76,"b":78,"y":0.0462,"l":0.0452,"h":0.0472},{"g":"D","x":81,"a":80,"b":82,"y":0.0467,"l":0.0457,"h":0.0477},{"g":"D","x":85,"a":84,"b":86,"y":0.0479,"l":0.0469,"h":0.0489},{"g":"D","x":89,"a":88,"b":90,"y":0.0489,"l":0.0479,"h":0.0499},{"g":"D","x":93,"a":92,"b":94,"y":0.0499,"l":0.0489,"h":0.0509},{"g":"D","x":97,"a":96,"b":98,"y":0.0494,"l":0.0484,"h":0.0504},{"g":"N","x":1,"a":0,"b":2,"y":0.0091,"l":0.0075,"h":0.0107},{"g":"N","x":5,"a":4,"b":6,"y":0.0106,"l":0.0096,"h":0.0116},{"g":"N","x":9,"a":8,"b":10,"y":0.0101,"l":0.0091,"h":0.0111},{"g":"N","x":13,"a":12,"b":14,"y":0.0094,"l":0.0084,"h":0.0104},{"g":"N","x":17,"a":16,"b":18,"y":0.0111,"l":0.0101,"h":0.0121},{"g":"N","x":21,"a":20,"b":22,"y":0.0111,"l":0.0101,"h":0.0121},{"g":"N","x":25,"a":24,"b":26,"y":0.0133,"l":0.0123,"h":0.0143},{"g":"N","x":29,"a":28,"b":30,"y":0.0163,"l":0.0153,"h":0.0173},{"g":"N","x":33,"a":32,"b":34,"y":0.0168,"l":0.0158,"h":0.0178},{"g":"N","x":37,"a":36,"b":38,"y":0.0168,"l":0.0158,"h":0.0178},{"g":"N","x":41,"a":40,"b":42,"y":0.018,"l":0.017,"h":0.019},{"g":"N","x":45,"a":44,"b":46,"y":0.0185,"l":0.0175,"h":0.0195},{"g":"N","x":49,"a":48,"b":50,"y":0.018,"l":0.017,"h":0.019},{"g":"N","x":53,"a":52,"b":54,"y":0.0193,"l":0.0183,"h":0.0203},{"g":"N","x":57,"a":56,"b":58,"y":0.0202,"l":0.0192,"h":0.0212},{"g":"N","x":61,"a":60,"b":62,"y":0.0198,"l":0.0188,"h":0.0208},{"g":"N","x":65,"a":64,"b":66,"y":0.0207,"l":0.0197,"h":0.0217},{"g":"N","x":69,"a":68,"b":70,"y":0.0215,"l":0.0205,"h":0.0225},{"g":"N","x":73,"a":72,"b":74,"y":0.023,"l":0.022,"h":0.024},{"g":"N","x":77,"a":76,"b":78,"y":0.024,"l":0.023,"h":0.025},{"g":"N","x":81,"a":80,"b":82,"y":0.0235,"l":0.0225,"h":0.0245},{"g":"N","x":85,"a":84,"b":86,"y":0.0235,"l":0.0225,"h":0.0245},{"g":"N","x":89,"a":88,"b":90,"y":0.0254,"l":0.0244,"h":0.0264},{"g":"N","x":93,"a":92,"b":94,"y":0.0267,"l":0.0257,"h":0.0277},{"g":"N","x":97,"a":96,"b":98,"y":0.0267,"l":0.0257,"h":0.0277}],
"s2":[{"g":"D","x":0.5,"a":0,"b":1,"y":0.0855,"l":0.0835,"h":0.0875},{"g":"D","x":2.5,"a":2,"b":3,"y":0.06,"l":0.059,"h":0.061},{"g":"D","x":4.5,"a":4,"b":5,"y":0.061,"l":0.06,"h":0.062},{"g":"D","x":6.5,"a":6,"b":7,"y":0.061,"l":0.06,"h":0.062},{"g":"D","x":8.5,"a":8,"b":9,"y":0.0665,"l":0.0655,"h":0.0675},{"g":"D","x":10.9,"a":10,"b":12,"y":0.0684,"l":0.0674,"h":0.0694},{"g":"D","x":14.2,"a":13.2,"b":15.1,"y":0.0684,"l":0.0674,"h":0.0694},{"g":"D","x":17.5,"a":16.6,"b":18.4,"y":0.071,"l":0.07,"h":0.072},{"g":"D","x":21.3,"a":20,"b":22.6,"y":0.0742,"l":0.0732,"h":0.0752},{"g":"D","x":26.3,"a":25,"b":27.6,"y":0.0745,"l":0.0735,"h":0.0755},{"g":"D","x":33.8,"a":32.5,"b":35,"y":0.082,"l":0.081,"h":0.083},{"g":"D","x":43,"a":41.9,"b":44,"y":0.0806,"l":0.0796,"h":0.0816},{"g":"D","x":53,"a":51.8,"b":54,"y":0.0835,"l":0.0825,"h":0.0845},{"g":"N","x":0.5,"a":0,"b":1,"y":0.0768,"l":0.075,"h":0.0786},{"g":"N","x":2.5,"a":2,"b":3,"y":0.0565,"l":0.0555,"h":0.0575},{"g":"N","x":4.5,"a":4,"b":5,"y":0.0565,"l":0.0555,"h":0.0575},{"g":"N","x":6.5,"a":6,"b":7,"y":0.0597,"l":0.0587,"h":0.0607},{"g":"N","x":8.5,"a":8,"b":9,"y":0.0603,"l":0.0593,"h":0.0613},{"g":"N","x":10.9,"a":10,"b":12,"y":0.0639,"l":0.0629,"h":0.0649},{"g":"N","x":14.2,"a":13.2,"b":15.1,"y":0.0639,"l":0.0629,"h":0.0649},{"g":"N","x":17.5,"a":16.6,"b":18.4,"y":0.0658,"l":0.0648,"h":0.0668},{"g":"N","x":21.3,"a":20,"b":22.6,"y":0.0719,"l":0.0709,"h":0.0729},{"g":"N","x":26.3,"a":25,"b":27.6,"y":0.07,"l":0.069,"h":0.071},{"g":"N","x":33.8,"a":32.5,"b":35,"y":0.0765,"l":0.0755,"h":0.0775},{"g":"N","x":43,"a":41.9,"b":44,"y":0.078,"l":0.077,"h":0.079},{"g":"N","x":53,"a":51.8,"b":54,"y":0.08,"l":0.079,"h":0.081}]},
"vconcat":[
{"width":473,"height":341,"encoding":{"color":{"field":"c","type":"ordinal","legend":null,"scale":{"domain":[1,2,3,4,5,6,7,8,9,10,11,12],"range":["#6100ff","#2c00ff","#0000ff","#0070ff","#00b4ff","#00ffff","#00ff90","#00ff00","#a0ff00","#ffff00","#ff9000","#ff0000"]}},"stroke":{"field":"c","type":"ordinal","legend":null,"scale":{"domain":[1,2,3,4,5,6,7,8,9,10,11,12],"range":["#6100ff","#2c00ff","#0000ff","#0070ff","#00b4ff","#00ffff","#00ff90","#00ff00","#a0ff00","#ffff00","#ff9000","#ff0000"]}},"y":{"field":"y","type":"quantitative","scale":{"domain":[1,100],"nice":false,"zero":false},"axis":{"title":"Reconstructed p [GeV]","titleX":-36,"titleY":0,"titleAlign":"right","titleFontSize":17,"labelFontSize":16.5,"labelPadding":19,"labelOverlap":false,"format":"d","values":[2,4,6,8,10,12,14,16,18,20,22,24,26,28,30,32,34,36,38,40,42,44,46,48,50,52,54,56,58,60,62,64,66,68,70,72,74,76,78,80,82,84,86,88,90,92,94,96,98,100],"labelExpr":"datum.value%10==0?datum.label:''","tickSize":{"condition":{"test":"datum.value%10==0","value":-16},"value":-8}}},"y2":{"field":"t"}},"layer":[{"data":{"name":"h1b"},"mark":{"type":"rect","binSpacing":0,"strokeWidth":0.5},"encoding":{"x":{"field":"x","type":"quantitative","bin":{"step":2,"extent":[0,100]},"scale":{"domain":[0,100],"nice":false},"axis":{"title":null,"labels":false,"values":[2,4,6,8,10,12,14,16,18,20,22,24,26,28,30,32,34,36,38,40,42,44,46,48,50,52,54,56,58,60,62,64,66,68,70,72,74,76,78,80,82,84,86,88,90,92,94,96,98],"tickSize":{"condition":{"test":"datum.value%10==0","value":-10},"value":-5}}}}},{"data":{"name":"h1a"},"mark":{"type":"rect","binSpacing":0,"strokeWidth":0.5},"encoding":{"x":{"field":"x","type":"quantitative","bin":{"step":1,"extent":[0,100]}}}}]},
{"width":473,"height":121,"data":{"name":"s1"},"encoding":{"x":{"field":"x","type":"quantitative","scale":{"domain":[0,100],"nice":false},"axis":{"title":"Generated p [GeV]","titleX":473,"titleY":18,"titleAlign":"right","titleFontSize":15,"labelFontSize":15,"labelPadding":10,"labelOverlap":false,"format":"d","values":[0,2,4,6,8,10,12,14,16,18,20,22,24,26,28,30,32,34,36,38,40,42,44,46,48,50,52,54,56,58,60,62,64,66,68,70,72,74,76,78,80,82,84,86,88,90,92,94,96,98,100],"labelExpr":"datum.value%10==0?datum.label:''","tickSize":{"condition":{"test":"datum.value%10==0","value":-8},"value":-4}}},"y":{"field":"y","type":"quantitative","scale":{"domain":[0,0.09],"nice":false},"axis":{"title":"σ [Δ p / p]","titleX":-37,"titleY":0,"titleAlign":"right","titleFontSize":15,"labelFontSize":15,"labelPadding":16,"labelOverlap":false,"format":".2~f","values":[0,0.005,0.01,0.015,0.02,0.025,0.03,0.035,0.04,0.045,0.05,0.055,0.06,0.065,0.07,0.075,0.08,0.085],"labelExpr":"round(datum.value*1000)%20==0?datum.label:''","tickSize":{"condition":{"test":"round(datum.value*1000)%20==0","value":-13},"value":-7}}}},"layer":[{"mark":{"type":"rule","strokeWidth":1},"encoding":{"x":{"field":"a","type":"quantitative","axis":{"title":"Generated p [GeV]","titleX":473,"titleY":18,"titleAlign":"right","titleFontSize":15,"labelFontSize":15,"labelPadding":10,"labelOverlap":false,"format":"d","values":[0,2,4,6,8,10,12,14,16,18,20,22,24,26,28,30,32,34,36,38,40,42,44,46,48,50,52,54,56,58,60,62,64,66,68,70,72,74,76,78,80,82,84,86,88,90,92,94,96,98,100],"labelExpr":"datum.value%10==0?datum.label:''","tickSize":{"condition":{"test":"datum.value%10==0","value":-8},"value":-4}}},"x2":{"field":"b"},"stroke":{"field":"g","type":"nominal","legend":null}}},{"mark":{"type":"rule","strokeWidth":1},"encoding":{"y":{"field":"l","type":"quantitative","axis":{"title":"σ [Δ p / p]","titleX":-37,"titleY":0,"titleAlign":"right","titleFontSize":15,"labelFontSize":15,"labelPadding":16,"labelOverlap":false,"format":".2~f","values":[0,0.005,0.01,0.015,0.02,0.025,0.03,0.035,0.04,0.045,0.05,0.055,0.06,0.065,0.07,0.075,0.08,0.085],"labelExpr":"round(datum.value*1000)%20==0?datum.label:''","tickSize":{"condition":{"test":"round(datum.value*1000)%20==0","value":-13},"value":-7}}},"y2":{"field":"h"},"stroke":{"field":"g","type":"nominal","legend":null}}},{"mark":{"type":"point","filled":true,"size":34,"opacity":1},"encoding":{"color":{"field":"g","type":"nominal","scale":{"domain":["N","D"],"range":["#0000ff","#ff0000"]},"legend":{"orient":"none","legendX":87,"legendY":10,"title":null,"labelFontSize":15,"labelColor":"#111","labelLimit":400,"symbolType":"circle","symbolSize":34,"symbolOpacity":1,"labelOffset":26,"rowPadding":5.5,"labelExpr":"datum.label=='N'?'No dead material':'Dead material 4x layer 2mm Cu'"}}}}]},
{"width":473,"height":81,"data":{"values":[{"a":1}]},"view":{"stroke":null},"mark":{"type":"point","opacity":0},"encoding":{}},
{"width":473,"height":339,"encoding":{"color":{"field":"c","type":"ordinal","legend":null,"scale":{"domain":[1,2,3,4,5,6,7,8,9,10,11,12],"range":["#6100ff","#4000ff","#0000ff","#0070ff","#00b4ff","#00ffff","#00ff90","#00ff00","#a0ff00","#ffff00","#ff9000","#ff0000"]}},"stroke":{"field":"c","type":"ordinal","legend":null,"scale":{"domain":[1,2,3,4,5,6,7,8,9,10,11,12],"range":["#6100ff","#4000ff","#0000ff","#0070ff","#00b4ff","#00ffff","#00ff90","#00ff00","#a0ff00","#ffff00","#ff9000","#ff0000"]}},"y":{"field":"y","type":"quantitative","scale":{"domain":[0.5,60],"nice":false,"zero":false},"axis":{"title":"Reconstructed Energy [GeV]","titleX":-36,"titleY":0,"titleAlign":"right","titleFontSize":17,"labelFontSize":16.5,"labelPadding":19,"labelOverlap":false,"format":"d","values":[2,4,6,8,10,12,14,16,18,20,22,24,26,28,30,32,34,36,38,40,42,44,46,48,50,52,54,56,58,60],"labelExpr":"datum.value%10==0?datum.label:''","tickSize":{"condition":{"test":"datum.value%10==0","value":-16},"value":-8}}},"y2":{"field":"t"}},"layer":[{"data":{"name":"h2b"},"mark":{"type":"rect","binSpacing":0,"strokeWidth":0.5},"encoding":{"x":{"field":"x","type":"quantitative","bin":{"step":1.2,"extent":[0,60]},"scale":{"domain":[0,60],"nice":false},"axis":{"title":null,"labels":false,"values":[2,4,6,8,10,12,14,16,18,20,22,24,26,28,30,32,34,36,38,40,42,44,46,48,50,52,54,56,58],"tickSize":{"condition":{"test":"datum.value%10==0","value":-10},"value":-5}}}}},{"data":{"name":"h2a"},"mark":{"type":"rect","binSpacing":0,"strokeWidth":0.5},"encoding":{"x":{"field":"x","type":"quantitative","bin":{"step":0.6,"extent":[0,60]}}}},{"data":{"name":"holes"},"mark":{"type":"rect","binSpacing":0,"strokeWidth":0.3},"encoding":{"color":{"value":"#ffffff"},"stroke":{"value":"#ffffff"},"x":{"field":"x","type":"quantitative"},"x2":{"field":"e"},"y":{"field":"y","type":"quantitative","bin":{"step":0.6,"extent":[0.5,60.5],"anchor":0.5,"nice":false}},"y2":null}}]},
{"width":473,"height":122,"data":{"name":"s2"},"encoding":{"x":{"field":"x","type":"quantitative","scale":{"domain":[0,60],"nice":false},"axis":{"title":"Generated Energy [GeV]","titleX":473,"titleY":18,"titleAlign":"right","titleFontSize":15,"labelFontSize":15,"labelPadding":10,"labelOverlap":false,"format":"d","values":[0,2,4,6,8,10,12,14,16,18,20,22,24,26,28,30,32,34,36,38,40,42,44,46,48,50,52,54,56,58,60],"labelExpr":"datum.value%10==0?datum.label:''","tickSize":{"condition":{"test":"datum.value%10==0","value":-8},"value":-4}}},"y":{"field":"y","type":"quantitative","scale":{"domain":[0,0.118],"nice":false},"axis":{"title":"σ [Δ E / E]","titleX":-37,"titleY":0,"titleAlign":"right","titleFontSize":15,"labelFontSize":15,"labelPadding":16,"labelOverlap":false,"format":".2~f","values":[0,0.01,0.02,0.03,0.04,0.05,0.06,0.07,0.08,0.09,0.1,0.11],"labelExpr":"round(datum.value*100)%5==0?datum.label:''","tickSize":{"condition":{"test":"round(datum.value*100)%5==0","value":-13},"value":-7}}}},"layer":[{"mark":{"type":"rule","strokeWidth":1},"encoding":{"x":{"field":"a","type":"quantitative","axis":{"title":"Generated Energy [GeV]","titleX":473,"titleY":18,"titleAlign":"right","titleFontSize":15,"labelFontSize":15,"labelPadding":10,"labelOverlap":false,"format":"d","values":[0,2,4,6,8,10,12,14,16,18,20,22,24,26,28,30,32,34,36,38,40,42,44,46,48,50,52,54,56,58,60],"labelExpr":"datum.value%10==0?datum.label:''","tickSize":{"condition":{"test":"datum.value%10==0","value":-8},"value":-4}}},"x2":{"field":"b"},"stroke":{"field":"g","type":"nominal","legend":null}}},{"mark":{"type":"rule","strokeWidth":1},"encoding":{"y":{"field":"l","type":"quantitative","axis":{"title":"σ [Δ E / E]","titleX":-37,"titleY":0,"titleAlign":"right","titleFontSize":15,"labelFontSize":15,"labelPadding":16,"labelOverlap":false,"format":".2~f","values":[0,0.01,0.02,0.03,0.04,0.05,0.06,0.07,0.08,0.09,0.1,0.11],"labelExpr":"round(datum.value*100)%5==0?datum.label:''","tickSize":{"condition":{"test":"round(datum.value*100)%5==0","value":-13},"value":-7}}},"y2":{"field":"h"},"stroke":{"field":"g","type":"nominal","legend":null}}},{"mark":{"type":"point","filled":true,"size":34,"opacity":1},"encoding":{"color":{"field":"g","type":"nominal","scale":{"domain":["N","D"],"range":["#0000ff","#ff0000"]},"legend":{"orient":"none","legendX":87,"legendY":75,"title":null,"labelFontSize":15,"labelColor":"#111","labelLimit":400,"symbolType":"circle","symbolSize":34,"symbolOpacity":1,"labelOffset":26,"rowPadding":6,"labelExpr":"datum.label=='N'?'No dead material':'Dead material 4x layer 2mm Cu'"}}}}]}
]}
